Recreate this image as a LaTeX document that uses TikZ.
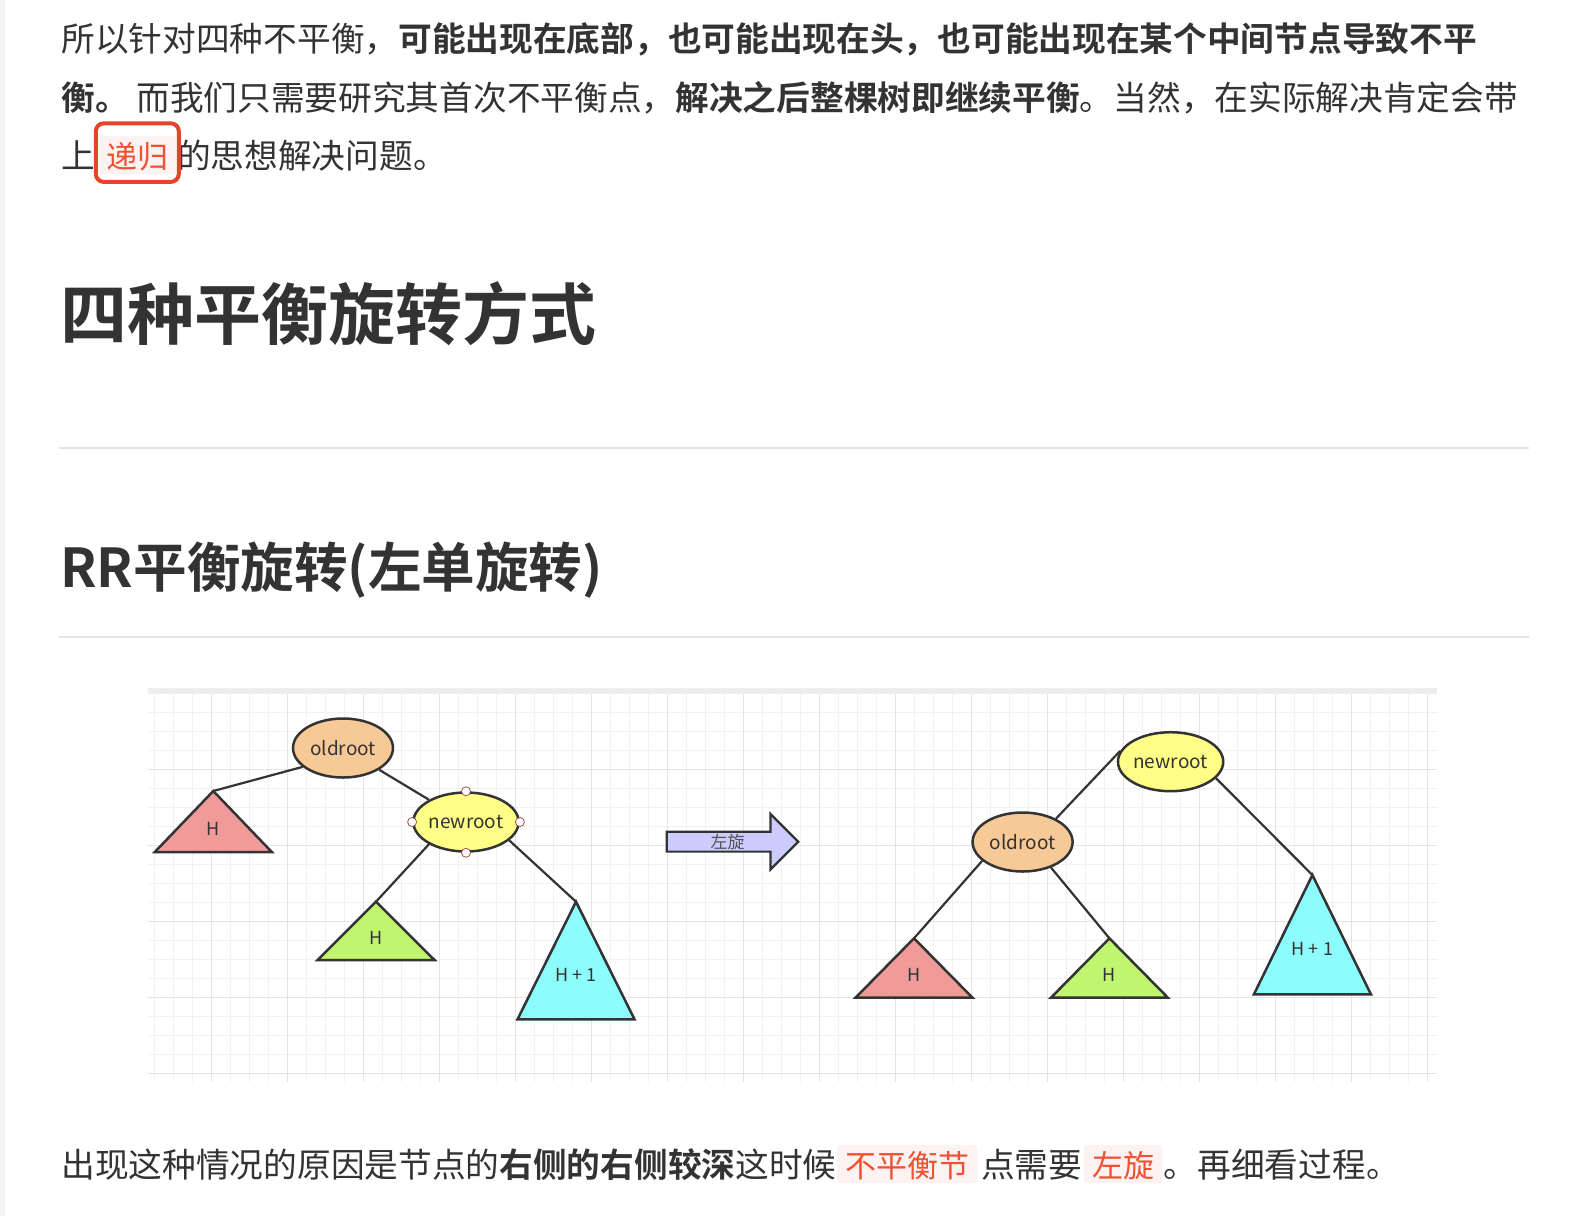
\documentclass[tikz,border=0pt]{standalone}
\usepackage{fontspec}
\setmainfont{Noto Sans CJK SC}[BoldFont={* Bold}]
\usepackage{tikz}
\usetikzlibrary{shapes.geometric, shapes.arrows, positioning, calc}
\definecolor{pgtext}{HTML}{333333}
\definecolor{pgrule}{HTML}{E3E5E7}
\definecolor{pgstrip}{HTML}{F2F4F4}
\definecolor{codefg}{HTML}{EF5233}
\definecolor{codebg}{HTML}{FDF2F2}
\definecolor{hlred}{HTML}{E5432A}
\definecolor{gridmin}{HTML}{F1F1F1}
\definecolor{gridmaj}{HTML}{E4E4E4}
\definecolor{gridbar}{HTML}{EDEDED}
\definecolor{nodeorange}{HTML}{F7C996}
\definecolor{nodeyellow}{HTML}{FFFF88}
\definecolor{trired}{HTML}{F09B9A}
\definecolor{trigreen}{HTML}{C0F56F}
\definecolor{tricyan}{HTML}{8CFCFC}
\definecolor{turnfill}{HTML}{CCCCFF}
\definecolor{inkline}{HTML}{333333}
\definecolor{gripedge}{HTML}{A05050}
\tikzset{
  bodytxt/.style={inner sep=0pt, text=pgtext, font=\fontsize{16.85pt}{20pt}\selectfont},
  headtxt/.style={inner sep=0pt, text=pgtext, anchor=base west},
  codechip/.style={rectangle, rounded corners=1.5pt, fill=codebg, text=codefg,
              inner xsep=4pt, inner ysep=1.75pt, text height=14.2pt, text depth=1.3pt,
              font=\fontsize{15.5pt}{18pt}\selectfont},
  hlframe/.style={rectangle, rounded corners=4pt, draw=hlred, line width=2pt},
  rulebar/.style={draw=pgrule, line width=1pt},
  minorline/.style={draw=gridmin, line width=0.5pt},
  majorline/.style={draw=gridmaj, line width=0.7pt},
  rootold/.style={ellipse, draw=inkline, line width=1.25pt, fill=nodeorange, inner sep=0pt,
              minimum width=50pt, minimum height=29.5pt, text=pgtext, font=\fontsize{9.5pt}{11pt}\selectfont},
  rootnew/.style={rootold, fill=nodeyellow},
  grip/.style={circle, draw=gripedge, fill=white, line width=0.4pt, inner sep=0pt, minimum size=4.5pt},
  tri/.style={draw=inkline, line width=1.25pt, line join=miter},
  trilbl/.style={inner sep=0pt, text=pgtext, font=\fontsize{9pt}{11pt}\selectfont},
  treeedge/.style={draw=inkline, line width=1.1pt},
  turnarrow/.style={single arrow, draw=inkline, fill=turnfill, line width=1.1pt, inner sep=0pt,
              minimum height=65.8pt, single arrow head extend=8.9pt,
              text height=7.6pt, text depth=1.2pt, text=pgtext!85,
              font=\fontsize{8.5pt}{10pt}\selectfont},
}
% subtree triangle: name, apex x, apex y, height, fill, label
\newcommand{\subtri}[6]{%
  \coordinate (#1) at (#2,#3);
  \draw[tri, fill=#5] (#1) -- ++(-58.5,#4) -- ++(117,0) -- cycle;
  \node[trilbl] (#1-lbl) at ($(#1)+(0,0.62*#4)$) {#6};
}

\begin{document}
\begin{tikzpicture}[x=0.5pt, y=-0.5pt]
  \fill[white] (0,0) rectangle (1582,1216);
  \fill[pgstrip] (0,0) rectangle (5,1216);
  \useasboundingbox (0,0) rectangle (1582,1216);

  % paragraph above
  \node[bodytxt, anchor=base west] (para1) at (61,51)
    {所以针对四种不平衡，\textbf{可能出现在底部，也可能出现在头，也可能出现在某个中间节点导致不平}};
  \node[bodytxt, anchor=base west] (para2) at (61,110)
    {\textbf{衡。} 而我们只需要研究其首次不平衡点，\textbf{解决之后整棵树即继续平衡}。当然，在实际解决肯定会带};
  \node[bodytxt, anchor=base west] (para3a) at (61,168) {上};
  \node[codechip, base right=1.2pt of para3a] (recur) {递归};
  \node[bodytxt, base right=0pt of recur] (para3b) {的思想解决问题。};
  \node[hlframe, minimum width=41.5pt, minimum height=29.3pt] (recurmark) at ([yshift=1.25pt]recur.center) {};

  % headings
  \node[headtxt, font=\fontsize{33.5pt}{40pt}\selectfont\bfseries] (title) at (60,339) {四种平衡旋转方式};
  \draw[rulebar] (58.5,448) -- (1529,448);
  \node[headtxt, font=\fontsize{26.8pt}{32pt}\selectfont\bfseries] (subtitle) at (60,587) {RR平衡旋转(左单旋转)};
  \draw[rulebar] (58.5,637) -- (1529,637);

  % grid paper
  \fill[gridbar] (148,688) rectangle (1437,693.5);
  \foreach \i in {1,...,68}
    \draw[minorline] (135.7+19*\i,693.5) -- (135.7+19*\i,1082);
  \foreach \j in {1,...,20}
    \draw[minorline] (148,693.3+19*\j) -- (1437,693.3+19*\j);
  \foreach \k in {1,...,17}
    \draw[majorline] (135.7+76*\k,693.5) -- (135.7+76*\k,1082);
  \foreach \k in {1,...,5}
    \draw[majorline] (148,693.3+76*\k) -- (1437,693.3+76*\k);

  % before rotation
  \node[rootold] (oldL) at (343,748) {oldroot};
  \node[rootnew] (newL) at (466,822) {newroot};
  \foreach \a in {north,south,east,west}
    \node[grip] (newL-\a) at (newL.\a) {};
  \subtri{redL}{213.3}{791}{61}{trired}{H}
  \subtri{greenL}{376}{901.7}{58.3}{trigreen}{H}
  \subtri{cyanL}{576}{901.7}{117.6}{tricyan}{H~+~1}
  \draw[treeedge] (oldL.205) -- (redL);
  \draw[treeedge] (oldL) -- (newL);
  \draw[treeedge] (newL.211) -- (greenL);
  \draw[treeedge] (newL.-23) -- (cyanL);

  \node[turnarrow] (turn) at (727.5,841.7) {左旋};

  % after rotation
  \node[rootnew] (newR) at (1170.6,761.7) {newroot};
  \node[rootold] (oldR) at (1022.6,842) {oldroot};
  \subtri{redR}{914}{938.3}{59.4}{trired}{H}
  \subtri{greenR}{1109.4}{938.3}{59.4}{trigreen}{H}
  \subtri{cyanR}{1312.4}{875}{119.3}{tricyan}{H~+~1}
  \draw[treeedge] (newR.168) -- (oldR.35);
  \draw[treeedge] (oldR.205) -- (redR);
  \draw[treeedge] (oldR.-42) -- (greenR);
  \draw[treeedge] (newR.-20) -- (cyanR);

  % paragraph below
  \node[bodytxt, anchor=base west] (note1) at (61,1177) {出现这种情况的原因是节点的\textbf{右侧的右侧较深}这时候};
  \node[codechip, base right=0pt of note1] (notecode1) {不平衡节};
  \node[bodytxt, base right=1.5pt of notecode1] (note2) {点需要};
  \node[codechip, base right=0.5pt of note2] (notecode2) {左旋};
  \node[bodytxt, base right=0.5pt of notecode2] (note3) {。再细看过程。};
\end{tikzpicture}
\end{document}
